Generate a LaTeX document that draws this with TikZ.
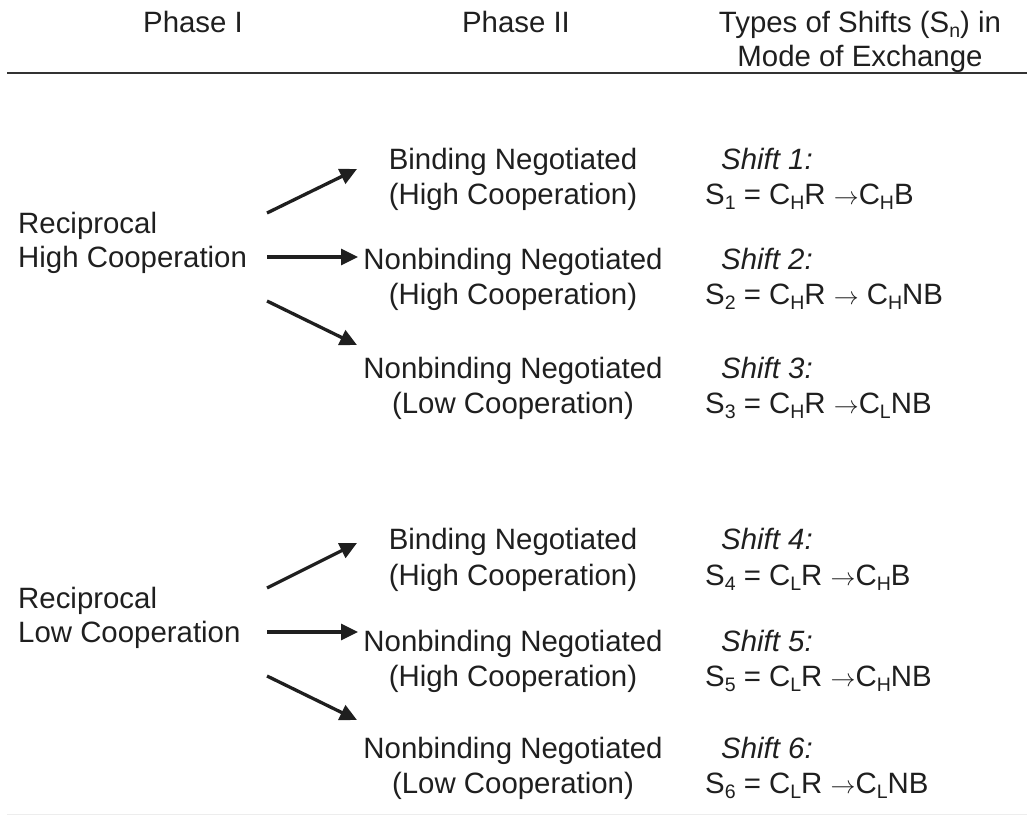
\documentclass[tikz,border=0pt]{standalone}
\usepackage{fontspec}
\setmainfont{Liberation Sans}
\usetikzlibrary{arrows.meta}
\newcommand\mysub[1]{\raisebox{-5pt}{\fontsize{19.5}{19.5}\selectfont #1}}
\begin{document}
\begin{tikzpicture}[x=1pt,y=-1pt,
  txt/.style={inner sep=0pt,font=\fontsize{29.4}{35}\selectfont,text=black!88},
  ctxt/.style={txt,anchor=base},
  ltxt/.style={txt,anchor=base west},
  arr/.style={line width=3.3pt,draw=black!88,-{Triangle[length=17pt,width=16pt]}},
  rule/.style={line width=1.6pt,draw=black!80}]
\useasboundingbox (0,0) rectangle (1027,816);
% header
\node[ctxt] (h1) at (193,32.5) {Phase I};
\node[ctxt] (h2) at (516,32.5) {Phase II};
\node[ctxt] (h3a) at (860,32.5) {Types of Shifts (S\mysub{n}) in};
\node[ctxt] (h3b) at (860,66.5) {Mode of Exchange};
\coordinate (r1) at (7,73);
\coordinate (r2) at (1027,73);
\draw[rule] (r1) -- (r2);
\coordinate (b1) at (7,814.5);
\coordinate (b2) at (1027,814.5);
\draw[line width=1pt,draw=black!7] (b1) -- (b2);

% Phase I
\node[ltxt] (p1a) at (18,233.5) {Reciprocal};
\node[ltxt] (p1b) at (18,267.5) {High Cooperation};
\node[ltxt] (p2a) at (18,608.5) {Reciprocal};
\node[ltxt] (p2b) at (18,642.5) {Low Cooperation};

% Phase II upper
\node[ctxt] (q1a) at (513,169.5) {Binding Negotiated};
\node[ctxt] (q1b) at (513,204.5) {(High Cooperation)};
\node[ctxt] (q2a) at (513,269.5) {Nonbinding Negotiated};
\node[ctxt] (q2b) at (513,304.5) {(High Cooperation)};
\node[ctxt] (q3a) at (513,378.5) {Nonbinding Negotiated};
\node[ctxt] (q3b) at (513,413.5) {(Low Cooperation)};
% Phase II lower
\node[ctxt] (q4a) at (513,549.5) {Binding Negotiated};
\node[ctxt] (q4b) at (513,585.5) {(High Cooperation)};
\node[ctxt] (q5a) at (513,651.5) {Nonbinding Negotiated};
\node[ctxt] (q5b) at (513,686.5) {(High Cooperation)};
\node[ctxt] (q6a) at (513,758.5) {Nonbinding Negotiated};
\node[ctxt] (q6b) at (513,793.5) {(Low Cooperation)};

% Shifts
\node[ltxt] (s1a) at (721,169.5) {\itshape Shift 1:};
\node[ltxt] (s1b) at (705,204.5) {S\mysub{1} = C\mysub{H}R $\rightarrow$C\mysub{H}B};
\node[ltxt] (s2a) at (721,269.5) {\itshape Shift 2:};
\node[ltxt] (s2b) at (705,304.5) {S\mysub{2} = C\mysub{H}R $\rightarrow$ C\mysub{H}NB};
\node[ltxt] (s3a) at (721,378.5) {\itshape Shift 3:};
\node[ltxt] (s3b) at (705,413.5) {S\mysub{3} = C\mysub{H}R $\rightarrow$C\mysub{L}NB};
\node[ltxt] (s4a) at (721,549.5) {\itshape Shift 4:};
\node[ltxt] (s4b) at (705,585.5) {S\mysub{4} = C\mysub{L}R $\rightarrow$C\mysub{H}B};
\node[ltxt] (s5a) at (721,651.5) {\itshape Shift 5:};
\node[ltxt] (s5b) at (705,686.5) {S\mysub{5} = C\mysub{L}R $\rightarrow$C\mysub{H}NB};
\node[ltxt] (s6a) at (721,758.5) {\itshape Shift 6:};
\node[ltxt] (s6b) at (705,793.5) {S\mysub{6} = C\mysub{L}R $\rightarrow$C\mysub{L}NB};

% arrows upper
\coordinate (u1s) at (267,213); \coordinate (u1e) at (357,169);
\coordinate (u2s) at (267,257); \coordinate (u2e) at (358,257);
\coordinate (u3s) at (267,301); \coordinate (u3e) at (357,345);
\draw[arr] (u1s) -- (u1e);
\draw[arr] (u2s) -- (u2e);
\draw[arr] (u3s) -- (u3e);
% arrows lower
\coordinate (l1s) at (267,588); \coordinate (l1e) at (357,543);
\coordinate (l2s) at (267,632); \coordinate (l2e) at (358,632);
\coordinate (l3s) at (267,676); \coordinate (l3e) at (357,720);
\draw[arr] (l1s) -- (l1e);
\draw[arr] (l2s) -- (l2e);
\draw[arr] (l3s) -- (l3e);
\end{tikzpicture}
\end{document}
